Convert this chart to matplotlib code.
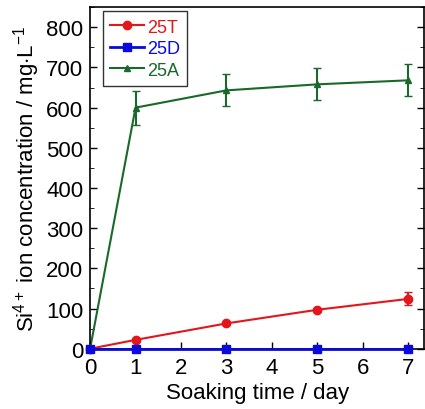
import numpy as np
import matplotlib.pyplot as plt
from matplotlib.ticker import MultipleLocator
from matplotlib.lines import Line2D

plt.rcParams['font.family'] = ['Liberation Sans', 'DejaVu Sans']
plt.rcParams['mathtext.fontset'] = 'custom'
plt.rcParams['mathtext.rm'] = 'Liberation Sans'
plt.rcParams['mathtext.it'] = 'Liberation Sans'

days = [0, 1, 3, 5, 7]
si_25T = [0, 22, 63, 97, 124]
err_25T = [0, 4, 4, 5, 16]
si_25D = [0, 0, 0, 0, 0]
err_25D = [0, 0, 0, 0, 0]
si_25A = [0, 600, 643, 658, 668]
err_25A = [0, 42, 40, 40, 40]

c_T, c_D, c_A = '#e3161b', '#0a0adc', '#18692a'

fig = plt.figure(figsize=(4.25, 4.1), dpi=100)
ax = fig.add_axes([0.212, 0.147, 0.786, 0.833])

ax.errorbar(days, si_25T, yerr=err_25T, color=c_T, marker='o', ms=6,
            lw=1.5, capsize=3, clip_on=False, zorder=3)
ax.errorbar(days, si_25D, yerr=err_25D, color=c_D, marker='s', ms=6,
            lw=2, capsize=3, clip_on=False, zorder=4)
ax.errorbar(days, si_25A, yerr=err_25A, color=c_A, marker='^', ms=5,
            lw=1.5, capsize=3, clip_on=False, zorder=2)

ax.set_xlim(0, 7.35)
ax.set_ylim(0, 850)
ax.xaxis.set_major_locator(MultipleLocator(1))
ax.yaxis.set_major_locator(MultipleLocator(100))
ax.yaxis.set_minor_locator(MultipleLocator(50))
ax.tick_params(direction='in', labelsize=16, right=True, length=5, width=1)
ax.tick_params(which='minor', direction='in', right=True, length=3)
ax.tick_params(axis='x', pad=6)
ax.tick_params(axis='y', pad=5)
for s in ax.spines.values():
    s.set_linewidth(1.2)

ax.set_xlabel('Soaking time / day', fontsize=16, labelpad=3)
ax.set_ylabel('Si$^{4+}$ ion concentration / mg$\\cdot$L$^{-1}$', fontsize=16,
              labelpad=3)

handles = [Line2D([], [], color=c_T, marker='o', ms=6, lw=1.5),
           Line2D([], [], color=c_D, marker='s', ms=6, lw=2),
           Line2D([], [], color=c_A, marker='^', ms=5, lw=1.5)]
leg = ax.legend(handles, ['25T', '25D', '25A'], loc='upper left', fontsize=13,
                frameon=True, fancybox=False, edgecolor='black',
                handlelength=1.9, handletextpad=0.15, borderpad=0.4,
                labelspacing=0.25, borderaxespad=0, bbox_to_anchor=(0.038, 0.988))
leg.get_frame().set_linewidth(1.0)
for txt, col in zip(leg.get_texts(), [c_T, c_D, c_A]):
    txt.set_color(col)

fig.savefig('out.png', dpi=100)
